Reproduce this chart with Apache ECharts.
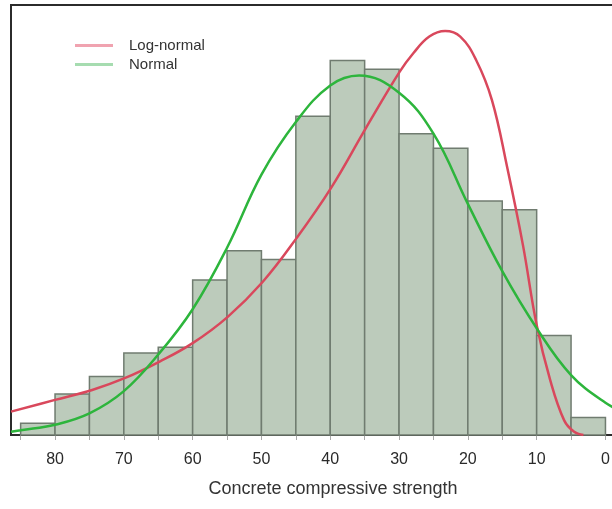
<!DOCTYPE html>
<html>
<head>
<meta charset="utf-8">
<script src="https://cdn.jsdelivr.net/npm/echarts@6/dist/echarts.min.js"></script>
<style>
  html, body { margin: 0; padding: 0; background: #fff; }
  #main { width: 612px; height: 509px; }
</style>
</head>
<body>
<div id="main"></div>
<script>
// histogram bins (width 5) and counts
var binStart = [85, 80, 75, 70, 65, 60, 55, 50, 45, 40, 35, 30, 25, 20, 15, 10, 5];
var binCounts = [4, 14, 20, 28, 30, 53, 63, 60, 109, 128, 125, 103, 98, 80, 77, 34, 6];

// fitted curves
var logNormX = [86.4, 80, 74.6, 69.8, 64.8, 60, 54.9, 49.8, 44.9, 39.9, 34.8, 29.9, 27.9, 25.6, 23.3, 21.1, 18.8, 16.5, 14.3, 12.0, 10.0, 8.0, 6.0, 4.6, 3.2];
var logNormY = [8.0, 12.0, 15.4, 19.5, 25.1, 31.4, 40.4, 52.4, 67.3, 84.4, 105, 124.2, 130.6, 136.2, 138.1, 136.2, 128.2, 114.5, 91.7, 65, 37.6, 18.5, 5.0, 1.2, 0];
var normX = [86.4, 85, 80, 75, 70, 65, 60, 55, 50, 45, 40, 35.8, 30, 25, 20, 15, 10, 5, 0, -3, -7.2];
var normY = [1.1, 1.6, 3.5, 7.4, 15, 27.5, 43, 64, 89, 107, 119.5, 122.9, 117, 103, 79, 56, 36.5, 20.5, 11, 7.5, 4.5];

// tick labels
var tickValues = [85, 80, 75, 70, 65, 60, 55, 50, 45, 40, 35, 30, 25, 20, 15, 10, 5, 0, -5];
var labelValues = [80, 70, 60, 50, 40, 30, 20, 10, 0];

var font = 'Liberation Sans, Arial, sans-serif';

var histData = binStart.map(function (s, i) {
  return [s, s - 5, binCounts[i]];
});
var logNormData = logNormX.map(function (x, i) { return [x, logNormY[i]]; });
var normData = normX.map(function (x, i) { return [x, normY[i]]; });

var chart = echarts.init(document.getElementById('main'));

var option = {
  animation: false,
  grid: {
    left: 11,
    right: -43,
    top: 5,
    bottom: 74,
    outerBoundsMode: 'none',
    containLabel: false,
    show: true,
    borderColor: '#2b2b2b',
    borderWidth: 2
  },
  legend: {
    orient: 'vertical',
    left: 70,
    top: 33,
    itemWidth: 38,
    itemHeight: 3,
    itemGap: 4,
    icon: 'rect',
    textStyle: { fontFamily: font, fontSize: 15, color: '#333', padding: [0, 0, 0, 11] },
    data: [
      { name: 'Log-normal', itemStyle: { color: '#f0a3b0' } },
      { name: 'Normal', itemStyle: { color: '#a6dcb0' } }
    ]
  },
  xAxis: {
    type: 'value',
    inverse: true,
    min: -7.2,
    max: 86.4,
    name: 'Concrete compressive strength',
    nameLocation: 'middle',
    nameGap: 45,
    nameTextStyle: { fontFamily: font, fontSize: 18, color: '#333' },
    axisLine: { show: true, onZero: false, lineStyle: { color: '#2b2b2b', width: 2 } },
    axisTick: { show: true, customValues: tickValues, length: 5, lineStyle: { color: '#aaa' } },
    axisLabel: { customValues: labelValues, margin: 17, fontFamily: font, fontSize: 16, color: '#2a2a2a' },
    splitLine: { show: false }
  },
  yAxis: {
    type: 'value',
    min: 0,
    max: 147,
    show: false
  },
  series: [
    {
      type: 'custom',
      name: 'hist',
      data: histData,
      encode: { x: [0, 1], y: 2 },
      renderItem: function (params, api) {
        var p0 = api.coord([api.value(0), api.value(2)]);
        var p1 = api.coord([api.value(1), 0]);
        return {
          type: 'rect',
          shape: {
            x: Math.min(p0[0], p1[0]),
            y: p0[1],
            width: Math.abs(p1[0] - p0[0]),
            height: p1[1] - p0[1]
          },
          style: { fill: '#bccbbb', stroke: '#707c70', lineWidth: 1.5 }
        };
      }
    },
    {
      type: 'line',
      name: 'Log-normal',
      data: logNormData,
      smooth: 0.4,
      showSymbol: false,
      lineStyle: { color: '#d9485c', width: 2.5 },
      itemStyle: { color: '#d9485c' }
    },
    {
      type: 'line',
      name: 'Normal',
      data: normData,
      smooth: 0.4,
      showSymbol: false,
      lineStyle: { color: '#2db53c', width: 2.5 },
      itemStyle: { color: '#2db53c' }
    }
  ]
};

chart.setOption(option);
</script>
</body>
</html>
